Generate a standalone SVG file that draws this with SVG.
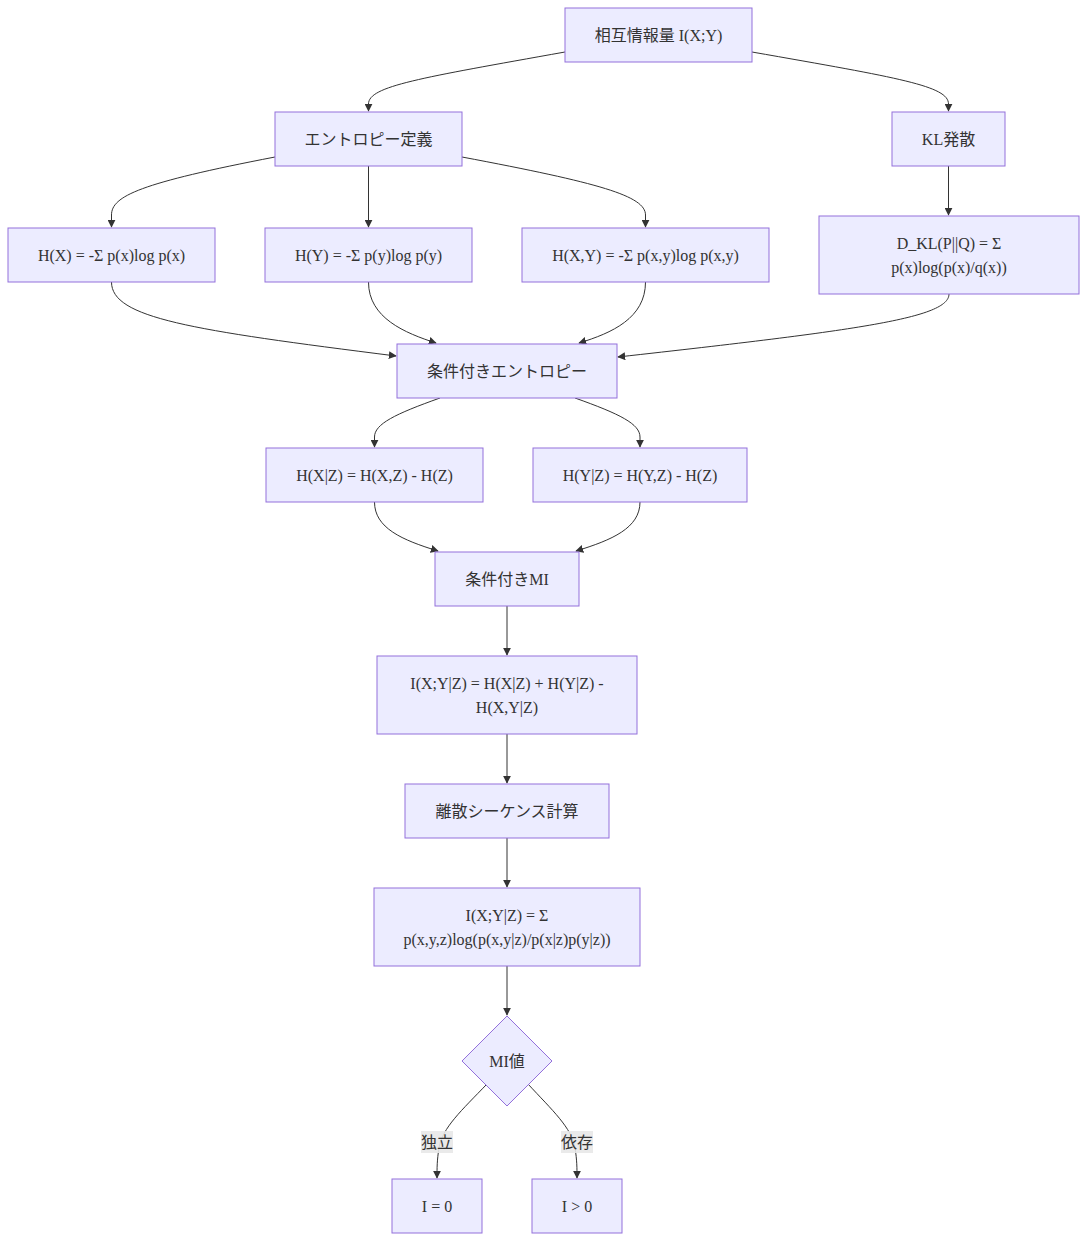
<svg xmlns="http://www.w3.org/2000/svg" width="1087" height="1242" viewBox="0 0 1087 1242">
<style>
.n rect,.n polygon{fill:#ECECFF;stroke:#9370DB;stroke-width:1}
text{font-family:"Liberation Serif","Noto Sans CJK JP",serif;font-size:16px;fill:#333;text-anchor:middle;dominant-baseline:central}
.e path{fill:none;stroke:#333;stroke-width:1}
.lb{fill:#e8e8e8;opacity:0.9}
</style>
<defs>
<marker id="ah" viewBox="0 0 10 10" refX="9" refY="5" markerWidth="8" markerHeight="8" markerUnits="userSpaceOnUse" orient="auto">
<path d="M0,0 L10,5 L0,10 z" fill="#333"/>
</marker>
</defs>
<rect width="1087" height="1242" fill="#fff"/>
<g class="e" marker-end="url(#ah)">
<path d="M565,52 C420,78 368.5,86 368.5,104 L368.5,111" marker-end="url(#ah)"/>
<path d="M752,52 C900,78 948.5,86 948.5,104 L948.5,111" marker-end="url(#ah)"/>
<path d="M275,157 C140,183 111.5,196 111.5,215 L111.5,227" marker-end="url(#ah)"/>
<path d="M368.5,166 L368.5,227" marker-end="url(#ah)"/>
<path d="M462,157 C600,183 645.5,196 645.5,215 L645.5,227" marker-end="url(#ah)"/>
<path d="M948.5,166 L948.5,215" marker-end="url(#ah)"/>
<path d="M111.5,282 C111.5,318 190,330 396,356" marker-end="url(#ah)"/>
<path d="M368.5,282 C368.5,318 405,333 436,343" marker-end="url(#ah)"/>
<path d="M645.5,282 C645.5,318 612,333 579,343" marker-end="url(#ah)"/>
<path d="M949,294 C949,318 860,330 618,357" marker-end="url(#ah)"/>
<path d="M440,398 C395,414 374.5,424 374.5,437 L374.5,447" marker-end="url(#ah)"/>
<path d="M575,398 C620,414 640,424 640,437 L640,447" marker-end="url(#ah)"/>
<path d="M374.5,502 C374.5,528 402,540 438,551" marker-end="url(#ah)"/>
<path d="M640,502 C640,528 612,540 576,551" marker-end="url(#ah)"/>
<path d="M507,606 L507,655" marker-end="url(#ah)"/>
<path d="M507,734 L507,783" marker-end="url(#ah)"/>
<path d="M507,838 L507,887" marker-end="url(#ah)"/>
<path d="M507,966 L507,1015" marker-end="url(#ah)"/>
<path d="M487,1084 C462,1110 442,1128 439,1148 C437,1160 437,1168 437,1178" marker-end="url(#ah)"/>
<path d="M528,1084 C552,1110 572,1128 575,1148 C577,1160 577,1168 577,1178" marker-end="url(#ah)"/>
</g>
<g id="edge-labels">
<rect class="lb" x="421" y="1131" width="32" height="22"/>
<text x="437" y="1142">独立</text>
<rect class="lb" x="561" y="1131" width="32" height="22"/>
<text x="577" y="1142">依存</text>
</g>
<g id="n1" class="n"><rect x="565" y="8" width="187" height="54"/><text x="658.5" y="35">相互情報量 I(X;Y)</text></g>
<g id="n2" class="n"><rect x="275" y="112" width="187" height="54"/><text x="368.5" y="139">エントロピー定義</text></g>
<g id="n3" class="n"><rect x="892" y="112" width="113" height="54"/><text x="948.5" y="139">KL発散</text></g>
<g id="n4" class="n"><rect x="8" y="228" width="207" height="54"/><text x="111.5" y="255">H(X) = -Σ p(x)log p(x)</text></g>
<g id="n5" class="n"><rect x="265" y="228" width="207" height="54"/><text x="368.5" y="255">H(Y) = -Σ p(y)log p(y)</text></g>
<g id="n6" class="n"><rect x="522" y="228" width="247" height="54"/><text x="645.5" y="255">H(X,Y) = -Σ p(x,y)log p(x,y)</text></g>
<g id="n7" class="n"><rect x="819" y="216" width="260" height="78"/><text x="949" y="243">D_KL(P||Q) = Σ</text><text x="949" y="267">p(x)log(p(x)/q(x))</text></g>
<g id="n8" class="n"><rect x="397" y="344" width="220" height="54"/><text x="507" y="371">条件付きエントロピー</text></g>
<g id="n9" class="n"><rect x="266" y="448" width="217" height="54"/><text x="374.5" y="475">H(X|Z) = H(X,Z) - H(Z)</text></g>
<g id="n10" class="n"><rect x="533" y="448" width="214" height="54"/><text x="640" y="475">H(Y|Z) = H(Y,Z) - H(Z)</text></g>
<g id="n11" class="n"><rect x="435" y="552" width="144" height="54"/><text x="507" y="579">条件付きMI</text></g>
<g id="n12" class="n"><rect x="377" y="656" width="260" height="78"/><text x="507" y="683">I(X;Y|Z) = H(X|Z) + H(Y|Z) -</text><text x="507" y="707">H(X,Y|Z)</text></g>
<g id="n13" class="n"><rect x="405" y="784" width="204" height="54"/><text x="507" y="811">離散シーケンス計算</text></g>
<g id="n14" class="n"><rect x="374" y="888" width="266" height="78"/><text x="507" y="915">I(X;Y|Z) = Σ</text><text x="507" y="939">p(x,y,z)log(p(x,y|z)/p(x|z)p(y|z))</text></g>
<g id="n15" class="n"><polygon points="507,1016 552,1061 507,1106 462,1061"/><text x="507" y="1061">MI値</text></g>
<g id="n16" class="n"><rect x="392" y="1179" width="90" height="54"/><text x="437" y="1206">I = 0</text></g>
<g id="n17" class="n"><rect x="532" y="1179" width="90" height="54"/><text x="577" y="1206">I &gt; 0</text></g>
</svg>
